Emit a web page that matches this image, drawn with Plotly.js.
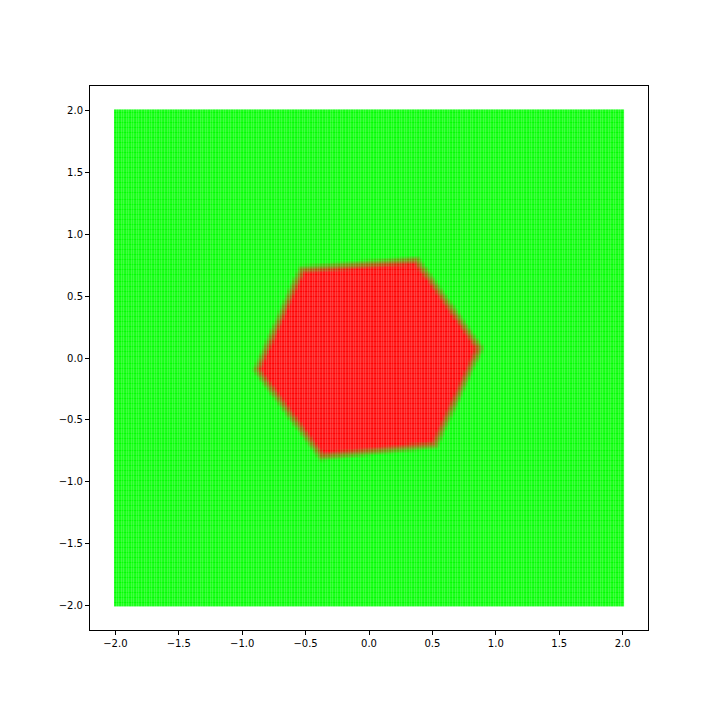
<!DOCTYPE html>
<html>
<head>
<meta charset="utf-8">
<script src="https://cdn.plot.ly/plotly-3.0.1.min.js"></script>
<style>
  html, body { margin: 0; padding: 0; background: #fff; }
  #graph { width: 720px; height: 720px; }
</style>
</head>
<body>
<div id="graph"></div>
<script>
// grid of sample points (meshgrid from -2 to 2)
var gridMin = -2.0;
var gridMax = 2.0;
var gridN = 200;

// hexagon region (red class), vertices, counter-clockwise
var hexX = [0.874, 0.376, -0.530, -0.884, -0.372, 0.520];
var hexY = [0.079, 0.794, 0.718, -0.097, -0.800, -0.704];

var tickVals = [-2.0, -1.5, -1.0, -0.5, 0.0, 0.5, 1.0, 1.5, 2.0];

var gridVals = [];
for (var i = 0; i < gridN; i++) {
    gridVals.push(gridMin + (gridMax - gridMin) * i / (gridN - 1));
}

// signed distance to hexagon edges, positive inside
function insideDist(px, py) {
    var d = Infinity;
    for (var k = 0; k < hexX.length; k++) {
        var ax = hexX[k], ay = hexY[k];
        var bx = hexX[(k + 1) % hexX.length], by = hexY[(k + 1) % hexY.length];
        var ex = bx - ax, ey = by - ay;
        var len = Math.sqrt(ex * ex + ey * ey);
        var c = (ex * (py - ay) - ey * (px - ax)) / len;
        if (c < d) d = c;
    }
    return d;
}

var z = [];
for (var j = 0; j < gridN; j++) {
    var row = [];
    for (var i = 0; i < gridN; i++) {
        var d = insideDist(gridVals[i], gridVals[j]);
        var s = (d + 0.04) / 0.08;
        if (s < 0) s = 0;
        if (s > 1) s = 1;
        row.push(s);
    }
    z.push(row);
}

var trace = {
    type: 'heatmap',
    x: gridVals,
    y: gridVals,
    z: z,
    zmin: 0,
    zmax: 1,
    colorscale: [[0, '#00ff00'], [1, '#ff0000']],
    showscale: false,
    xgap: 0.2,
    ygap: 0.2,
    hoverinfo: 'skip'
};

var axisStyle = {
    range: [-2.2, 2.2],
    tickvals: tickVals,
    ticktext: tickVals.map(function(v) { return v.toFixed(1).replace('-', '\u2212'); }),
    ticks: 'outside',
    ticklen: 4,
    tickwidth: 1,
    tickcolor: '#000',
    showgrid: false,
    zeroline: false,
    showline: true,
    linecolor: '#000',
    linewidth: 1,
    mirror: true,
    tickfont: { family: 'DejaVu Sans', size: 10, color: '#000' }
};

var layout = {
    width: 720,
    height: 720,
    margin: { l: 90, r: 72, t: 86, b: 90 },
    paper_bgcolor: '#fff',
    plot_bgcolor: '#fff',
    showlegend: false,
    xaxis: Object.assign({}, axisStyle),
    yaxis: Object.assign({}, axisStyle)
};

Plotly.newPlot('graph', [trace], layout, { displayModeBar: false, staticPlot: true });
</script>
</body>
</html>
